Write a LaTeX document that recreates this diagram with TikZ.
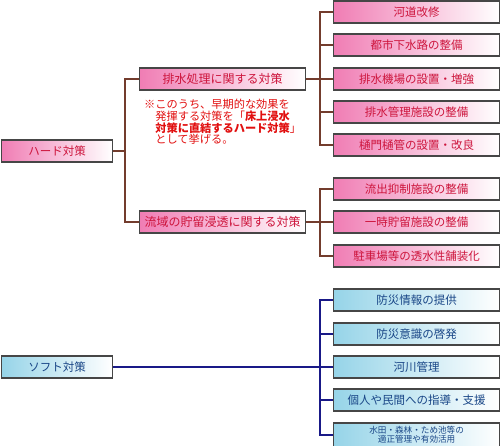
\documentclass[tikz,border=0pt]{standalone}
\usepackage{fontspec}
\setmainfont{Noto Sans CJK JP}
\usetikzlibrary{positioning}
\definecolor{hardpink}{RGB}{240,125,180}
\definecolor{hardred}{RGB}{205,20,60}
\definecolor{notered}{RGB}{225,15,15}
\definecolor{softcyan}{RGB}{150,212,232}
\definecolor{softblue}{RGB}{25,70,135}
\definecolor{brownline}{RGB}{115,60,45}
\definecolor{navyline}{RGB}{25,25,135}
\definecolor{boxedge}{RGB}{70,70,70}

\tikzset{
  hardbox/.style={draw=boxedge, line width=1.2pt, left color=hardpink, right color=white,
    text=hardred, minimum height=22pt, inner sep=0pt, anchor=west,
    font=\fontsize{11.5}{12}\selectfont},
  softbox/.style={hardbox, left color=softcyan, right color=white, text=softblue},
  hardlink/.style={brownline, line width=1.5pt},
  softlink/.style={navyline, line width=1.5pt}
}

\begin{document}
\begin{tikzpicture}[x=1pt, y=-1pt]
    \useasboundingbox (0,0) rectangle (500,445);
    \clip (0,0) rectangle (500,445);

    % main categories
    \node[hardbox, minimum width=111pt] (hard) at (1,151) {ハード対策};
    \node[softbox, minimum width=111pt] (soft) at (1,367) {ソフト対策};

    % hard: second level
    \node[hardbox, minimum width=166pt, font=\fontsize{12}{13}\selectfont] (drain) at (139,79) {排水処理に関する対策};
    \node[hardbox, minimum width=166pt, font=\fontsize{12}{13}\selectfont] (basin) at (139,222) {流域の貯留浸透に関する対策};

    \node[anchor=north west, text=notered, align=left, inner sep=0pt,
          font=\fontsize{11.2}{11.7}\selectfont] (remark) at (144,99)
      {※このうち、早期的な効果を\\
       \hspace*{1em}発揮する対策を「\textbf{床上浸水}\\
       \hspace*{1em}\textbf{対策に直結するハード対策}」\\
       \hspace*{1em}として挙げる。};

    % hard: third level
    \node[hardbox, minimum width=166pt] (canal) at (333,12) {河道改修};
    \node[hardbox, minimum width=166pt] (sewer) at (333,45) {都市下水路の整備};
    \node[hardbox, minimum width=166pt] (pump) at (333,79) {排水機場の設置・増強};
    \node[hardbox, minimum width=166pt] (facility) at (333,112) {排水管理施設の整備};
    \node[hardbox, minimum width=166pt] (sluice) at (333,145) {樋門樋管の設置・改良};

    \node[hardbox, minimum width=166pt] (runoff) at (333,189) {流出抑制施設の整備};
    \node[hardbox, minimum width=166pt] (storage) at (333,222) {一時貯留施設の整備};
    \node[hardbox, minimum width=166pt] (paving) at (333,256) {駐車場等の透水性舗装化};

    % soft: second level
    \node[softbox, minimum width=166pt] (info) at (333,300) {防災情報の提供};
    \node[softbox, minimum width=166pt] (aware) at (333,334) {防災意識の啓発};
    \node[softbox, minimum width=166pt] (river) at (333,367) {河川管理};
    \node[softbox, minimum width=166pt] (guide) at (333,400) {個人や民間への指導・支援};
    \node[softbox, minimum width=166pt, minimum height=24pt, align=center,
          font=\fontsize{8.6}{9.4}\selectfont] (paddy) at (333,435)
      {水田・森林・ため池等の\\適正管理や有効活用};

    % bus lines
    \coordinate (hardbus) at (125,0);
    \coordinate (subbus) at (320,0);

    \draw[hardlink] (hard.east) -- (hard.east -| hardbus);
    \foreach \sub in {drain, basin}
        \draw[hardlink] (\sub.west) -| (hard.east -| hardbus);

    \draw[hardlink] (drain.east) -- (drain.east -| subbus);
    \foreach \leaf in {canal, sewer, pump, facility, sluice}
        \draw[hardlink] (\leaf.west) -| (drain.east -| subbus);

    \draw[hardlink] (basin.east) -- (basin.east -| subbus);
    \foreach \leaf in {runoff, storage, paving}
        \draw[hardlink] (\leaf.west) -| (basin.east -| subbus);

    \draw[softlink] (soft.east) -- (soft.east -| subbus);
    \foreach \leaf in {info, aware, river, guide, paddy}
        \draw[softlink] (\leaf.west) -| (soft.east -| subbus);
\end{tikzpicture}
\end{document}
